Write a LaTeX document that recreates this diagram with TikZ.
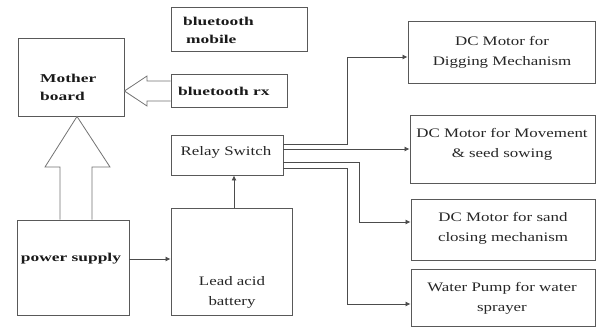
\documentclass[tikz,border=0pt]{standalone}
\usepackage{fontspec}
\setmainfont{Liberation Serif}
\newfontfamily\wide[FakeStretch=1.3]{Liberation Serif}
\newfontfamily\wideb[FakeStretch=1.45]{Liberation Serif}
\usetikzlibrary{arrows.meta,calc}
\begin{document}
\begin{tikzpicture}[x=1pt,y=-1pt,
  box/.style={draw=black!65, line width=0.9pt, inner sep=0pt, minimum width=#1},
  txt/.style={font=\wide\fontsize{13}{20}\selectfont, align=center, inner sep=0pt, text=black!85},
  btxt/.style={font=\wideb\bfseries\fontsize{12}{18}\selectfont, align=left, inner sep=0pt, text=black!90},
  conn/.style={draw=black!70, line width=0.8pt},
  arr/.style={conn, -{Latex[length=5pt,width=5pt]}},
  hollow/.style={draw=black!55, line width=0.8pt, fill=white, line join=miter}]
\useasboundingbox (0,0) rectangle (597,327);

% boxes
\node[box=106pt, minimum height=78pt] (mb) at (71,77) {};
\node[box=112pt, minimum height=95pt] (ps) at (73,267.5) {};
\node[box=121pt, minimum height=107pt] (lab) at (231.5,261.5) {};
\node[box=112pt, minimum height=40pt] (relay) at (227,155) {};
\node[box=136pt, minimum height=44pt] (btm) at (239,29) {};
\node[box=116pt, minimum height=33pt] (btrx) at (229,90.5) {};
\node[box=187pt, minimum height=62pt] (m1) at (501.5,52) {};
\node[box=185pt, minimum height=68pt] (m2) at (502.5,149) {};
\node[box=184pt, minimum height=61pt] (m3) at (503,229.5) {};
\node[box=184pt, minimum height=57pt] (m4) at (503,297.5) {};

% texts
\node[btxt, anchor=west] (tmb) at (40,87.5) {Mother\\board};
\node[btxt, anchor=west] (tbtm) at (183,30.5) {bluetooth\\\hspace*{3pt}mobile};
\node[btxt, anchor=west] (tbtrx) at (178,91) {bluetooth rx};
\node[btxt] (tps) at (71,259) {power supply};
\node[txt] (trelay) at (226,152) {Relay Switch};
\node[txt] (tlab) at (232,292.5) {Lead acid\\battery};
\node[txt] (tm1) at (502,52) {DC Motor for\\Digging Mechanism};
\node[txt] (tm2) at (502,144) {DC Motor for Movement\\\& seed sowing};
\node[txt] (tm3) at (503,228) {DC Motor for sand\\closing mechanism};
\node[txt] (tm4) at (502,298.5) {Water Pump for water\\sprayer};

% helper coordinates
\coordinate (xa) at (60,0);
\coordinate (xb) at (92,0);
\coordinate (xt) at (77,0);
\coordinate (ya) at (0,81);
\coordinate (yb) at (0,101);
\coordinate (yt) at (0,91);

% hollow block arrows
\draw[hollow] (ps.north -| xa) -- (60,167) -- (45,167) -- (mb.south -| xt) -- (110,167) -- (92,167) -- (ps.north -| xb);
\draw[hollow] (btrx.west |- ya) -- (147,81) -- (147,76) -- (mb.east |- yt) -- (147,106) -- (147,101) -- (btrx.west |- yb);

% connectors
\coordinate (y259) at (0,259);
\draw[arr] (ps.east |- y259) -- (lab.west |- y259);
\coordinate (x234) at (234,0);
\draw[arr] (lab.north -| x234) -- (relay.south -| x234);

\coordinate (r1) at (0,144);
\coordinate (r2) at (0,149);
\coordinate (r3) at (0,162);
\coordinate (r4) at (0,168);
\coordinate (v1) at (347,57);
\coordinate (v3) at (359,222);
\coordinate (v4) at (347,304);
\draw[arr] (relay.east |- r1) -| (v1) -- (m1.west |- v1);
\draw[arr] (relay.east |- r2) -- (m2.west |- r2);
\draw[arr] (relay.east |- r3) -| (v3) -- (m3.west |- v3);
\draw[arr] (relay.east |- r4) -| (v4) -- (m4.west |- v4);
\end{tikzpicture}
\end{document}
